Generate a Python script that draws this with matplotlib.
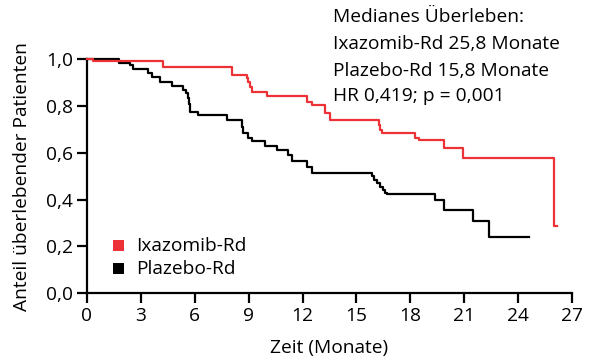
import matplotlib
matplotlib.use("Agg")
import matplotlib.pyplot as plt
from matplotlib.patches import Rectangle

plt.rcParams['font.family'] = ['Open Sans', 'DejaVu Sans']

# Kaplan-Meier step data (time in months, survival fraction from that time on)
ixa_t = [0, 0.35, 4.26, 8.07, 8.9, 8.97, 9.09, 9.18, 10.0, 12.24, 12.52, 13.26, 13.54,
         16.23, 16.32, 16.41, 18.27, 18.45, 19.84, 20.95, 25.97, 26.15]
ixa_s = [1.0, 0.991, 0.967, 0.932, 0.918, 0.903, 0.882, 0.858, 0.842, 0.818, 0.804, 0.768, 0.74,
         0.718, 0.697, 0.683, 0.662, 0.654, 0.619, 0.576, 0.287, 0.287]

pla_t = [0, 1.81, 2.41, 2.56, 3.43, 3.62, 4.08, 4.73, 5.38, 5.53,
         5.65, 5.70, 5.75, 6.21, 7.79, 8.63, 8.71, 8.99, 9.18, 9.92,
         10.57, 11.22, 11.41, 12.24, 12.52, 15.86, 16.0, 16.15, 16.3, 16.45,
         16.6, 16.69, 19.38, 19.84, 21.48, 22.39, 24.57]
pla_s = [1.0, 0.984, 0.974, 0.956, 0.939, 0.924, 0.903, 0.885, 0.868, 0.856,
         0.835, 0.81, 0.775, 0.761, 0.74, 0.711, 0.683, 0.662, 0.651, 0.629,
         0.612, 0.59, 0.565, 0.54, 0.515, 0.50, 0.485, 0.47, 0.455, 0.44,
         0.43, 0.424, 0.398, 0.355, 0.309, 0.239, 0.239]

x_ticks = [0, 3, 6, 9, 12, 15, 18, 21, 24, 27]
y_ticks = [0.0, 0.2, 0.4, 0.6, 0.8, 1.0]
y_labels = ['0,0', '0,2', '0,4', '0,6', '0,8', '1,0']

series_names = ['Ixazomib-Rd', 'Plazebo-Rd']
series_colors = ['#ec3237', '#000000']

annotation = ['Medianes Überleben:', 'Ixazomib-Rd 25,8 Monate',
              'Plazebo-Rd 15,8 Monate', 'HR 0,419; p = 0,001']

FS = 13.8
W, H = 600, 364
fig = plt.figure(figsize=(W / 100, H / 100), dpi=100)
ax = fig.add_axes([86.7 / W, 1 - 293.3 / H, (572.3 - 86.7) / W, (293.3 - 59) / H])

ax.plot(pla_t, pla_s, drawstyle='steps-post', color=series_colors[1], lw=1.6,
        clip_on=False, zorder=3)
ax.plot(ixa_t, ixa_s, drawstyle='steps-post', color=series_colors[0], lw=1.6,
        clip_on=False, zorder=4)

ax.set_xlim(0, 27)
ax.set_ylim(0, 1.0)
ax.set_xticks(x_ticks)
ax.set_xticklabels([str(v) for v in x_ticks])
ax.set_yticks(y_ticks)
ax.set_yticklabels(y_labels)
for s in ['top', 'right']:
    ax.spines[s].set_visible(False)
for s in ['left', 'bottom']:
    ax.spines[s].set_linewidth(1.6)
ax.tick_params(axis='both', direction='out', length=7, width=1.6, labelsize=FS,
               pad=3)

ax.set_xlabel('Zeit (Monate)', fontsize=FS, labelpad=10)
ax.set_ylabel('Anteil überlebender Patienten', fontsize=FS, labelpad=11)

def fx(px):
    return px / W

def fy(py):
    return 1 - py / H

baselines = [21.7, 49.3, 76.0, 100.7]
for txt, b in zip(annotation, baselines):
    fig.text(fx(333), fy(b), txt, fontsize=FS, va='baseline', ha='left')

# legend
leg_rows = [(240, 250.7), (262.7, 274)]
for (top, base), name, col in zip(leg_rows, series_names, series_colors):
    fig.patches.append(Rectangle((fx(113), fy(top + 11)), 11 / W, 11 / H,
                                 transform=fig.transFigure, facecolor=col,
                                 edgecolor='none'))
    fig.text(fx(136), fy(base), name, fontsize=FS, va='baseline', ha='left')

fig.savefig('out.png', dpi=100)
